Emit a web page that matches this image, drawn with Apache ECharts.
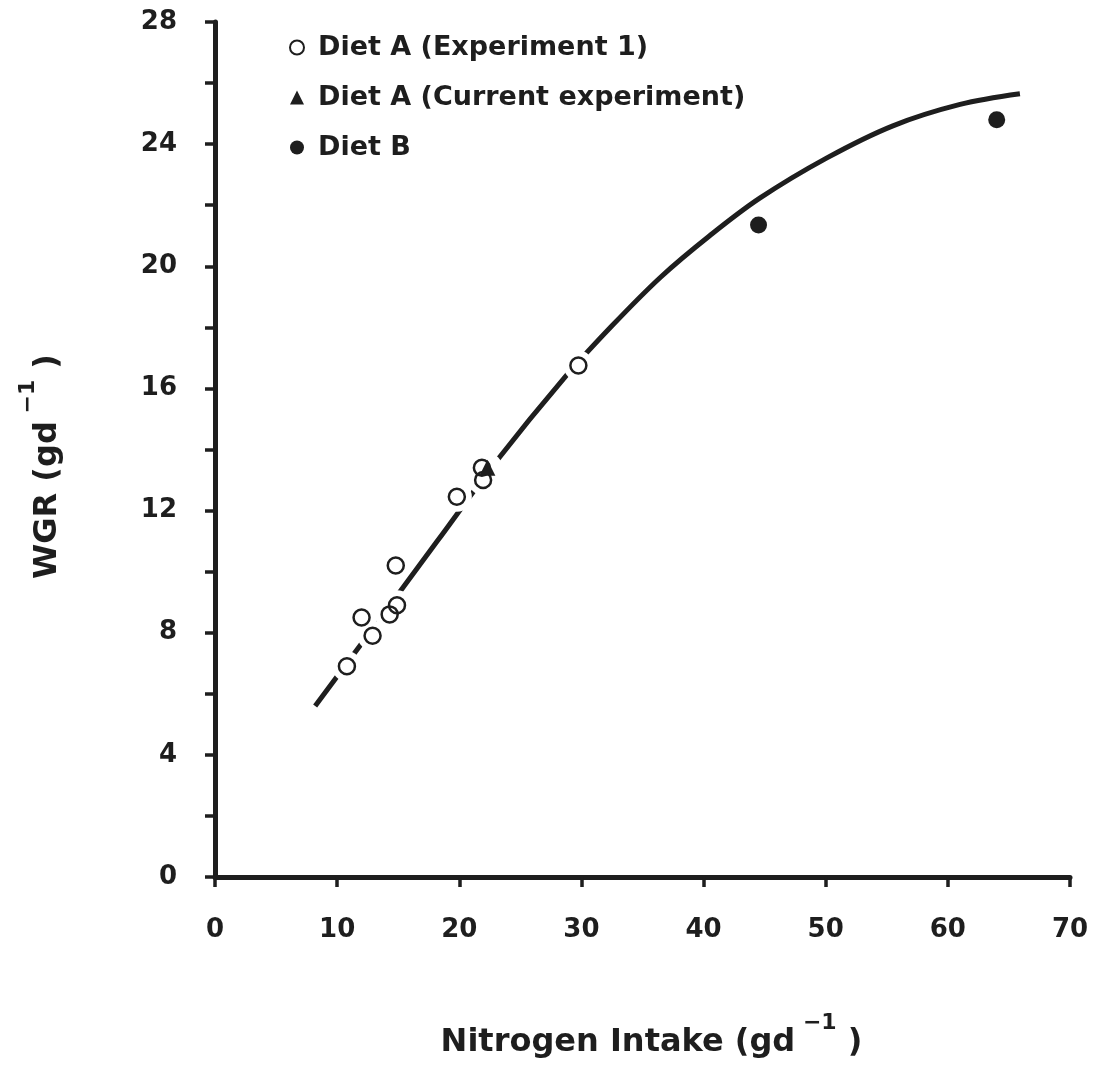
<!DOCTYPE html>
<html><head><meta charset="utf-8">
<script src="https://cdn.jsdelivr.net/npm/echarts@6/dist/echarts.min.js"></script>
<style>html,body{margin:0;padding:0;background:#fff;overflow:hidden}#c{width:1097px;height:1070px}</style>
</head><body><div id="c"></div>
<script>
// ---- data ----
const xTicks = [0, 10, 20, 30, 40, 50, 60, 70];
const yTicks = [0, 4, 8, 12, 16, 20, 24, 28];
const seriesNames = ['Diet A (Experiment 1)', 'Diet A (Current experiment)', 'Diet B'];
const dietA1 = [[10.8, 6.9], [12.0, 8.5], [12.9, 7.9], [14.3, 8.6], [14.9, 8.9], [14.8, 10.2], [19.8, 12.45], [21.85, 13.4], [21.95, 13.0], [29.75, 16.75]];
const dietACurrent = [[22.3, 13.4]];
const dietB = [[44.5, 21.35], [64.0, 24.8]];
const fitCurve = [[8.2, 5.6], [13.4, 8.4], [18.2, 11.0], [23.1, 13.65], [28.5, 16.3], [32.5, 18.05], [36.5, 19.65], [40.5, 21.0], [44.6, 22.23], [50.1, 23.55], [55.5, 24.6], [61.0, 25.3], [65.9, 25.65]];

const INK = '#1e1e1e';
const FONT = '"DejaVu Sans", "Liberation Sans", sans-serif';

const chart = echarts.init(document.getElementById('c'), null, {renderer: 'canvas', width: 1097, height: 1070});
const richName = {
  m: {fontSize: 32, fontWeight: 'bold', fontFamily: FONT, color: INK, lineHeight: 47, verticalAlign: 'bottom'},
  s: {fontSize: 22, fontWeight: 'bold', fontFamily: FONT, color: INK, lineHeight: 22, verticalAlign: 'top'}
};
chart.setOption({
  backgroundColor: '#fff',
  animation: false,
  grid: {left: 215, top: 22, width: 855, height: 855, containLabel: false},
  legend: {
    data: seriesNames,
    orient: 'vertical',
    left: 284, top: 29,
    itemWidth: 14, itemHeight: 14, itemGap: 23,
    textStyle: {fontSize: 27, fontWeight: 'bold', fontFamily: FONT, color: INK, lineHeight: 26, padding: [0, 0, 0, 9]}
  },
  xAxis: {
    type: 'value',
    min: xTicks[0], max: xTicks[xTicks.length - 1], interval: xTicks[1] - xTicks[0],
    splitLine: {show: false},
    axisLine: {onZero: false, lineStyle: {color: INK, width: 5}},
    axisTick: {length: 10, lineStyle: {color: INK, width: 3.5}},
    axisLabel: {margin: 40, fontSize: 26, fontWeight: 'bold', fontFamily: FONT, color: INK},
    name: '{m|Nitrogen Intake (gd}{s| −1}{m| )}',
    nameLocation: 'middle', nameGap: 135,
    nameTextStyle: {rich: richName, padding: [0, 0, 0, 18]}
  },
  yAxis: {
    type: 'value',
    min: yTicks[0], max: yTicks[yTicks.length - 1], interval: yTicks[1] - yTicks[0],
    splitLine: {show: false},
    axisLine: {onZero: false, lineStyle: {color: INK, width: 5}},
    axisTick: {length: 10, lineStyle: {color: INK, width: 3.5}},
    minorTick: {show: true, splitNumber: 2, length: 10, lineStyle: {color: INK, width: 3.5}},
    axisLabel: {margin: 38, fontSize: 26, fontWeight: 'bold', fontFamily: FONT, color: INK},
    name: '{m|WGR (gd}{s| −1}{m| )}',
    nameLocation: 'middle', nameGap: 151, nameRotate: 90,
    nameTextStyle: {rich: richName, padding: [0, 34, 0, 0]}
  },
  series: [
    {name: 'fit', type: 'line', data: fitCurve, smooth: 0.35, symbol: 'none', z: 2,
     lineStyle: {color: INK, width: 5}, silent: true},
    {name: 'halo', type: 'scatter', data: dietA1.concat(dietACurrent), symbol: 'circle', symbolSize: 30, z: 3,
     itemStyle: {color: '#fff', opacity: 1}, silent: true},
    {name: seriesNames[0], type: 'scatter', data: dietA1, symbol: 'circle', symbolSize: 16, z: 5,
     itemStyle: {color: 'rgba(255,255,255,0)', borderColor: INK, borderWidth: 2.5, opacity: 1}},
    {name: seriesNames[1], type: 'scatter', data: dietACurrent, symbol: 'triangle', symbolSize: 16, z: 5,
     itemStyle: {color: INK, opacity: 1}},
    {name: seriesNames[2], type: 'scatter', data: dietB, symbol: 'circle', symbolSize: 17, z: 5,
     itemStyle: {color: INK, opacity: 1}}
  ]
});
</script>
</body></html>
